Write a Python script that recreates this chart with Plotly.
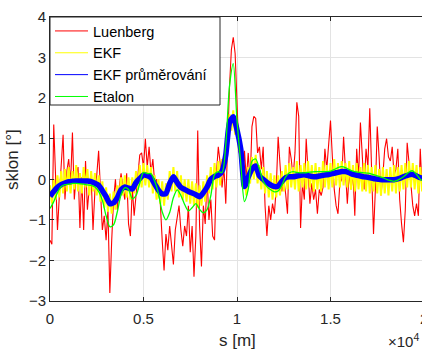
import plotly.graph_objects as go

# ---- data ----
# sample spacing of the noisy estimators [m] and of the smooth curves [m]
fine_step = 100
coarse_step = 200

luenberg = [
    -1.5, -1.6, 1.35, 0.1, -1.25, -0.4, 0.4, 1.1, -0.5, 0.2,
    0.5, -0.1, 1.15, -0.5, 0.1, 0.3, -1.2, 0.05, -1.25, 0.45,
    -0.75, -0.2, 0.1, -1.25, -0.3, 0.1, 0.7, -0.3, -1.25, -0.9,
    -1.5, -0.75, -2.8, -1.5, -0.5, 0.0, -0.75, -0.2, 0.15, -0.2,
    -0.5, 0.15, -1.1, -1.4, -0.2, -0.9, -0.3, 0.1, 0.6, 0.65,
    0.3, 1.0, 0.3, 0.8, 0.15, 0.5, -0.1, 0.0, -0.35, -0.6,
    -1.5, -2.25, -1.35, -1.75, -1.15, -1.6, -2.1, -1.25, -1.0, -0.65,
    -1.25, -1.65, -1.15, -1.4, -0.65, -1.8, -1.15, -2.4, -1.4, 1.2,
    -1.15, -2.15, -0.65, -1.1, 0.05, -1.0, -0.5, -1.4, -1.5, 0.15,
    0.8, 0.4, -0.2, 0.3, -0.6, 1.1, 2.3, 3.2, 3.5, 3.1,
    2.0, 0.7, 0.5, -0.2, 0.7, 0.0, 0.65, -0.1, 1.3, 1.55,
    1.5, 0.65, 0.8, 0.25, 0.8, -0.65, -1.4, -0.65, -1.0, -0.6,
    -0.85, -0.2, 1.05, 0.4, -0.3, 0.0, -0.35, -0.85, 0.8, 0.5,
    0.05, 0.65, 1.9, 1.55, -1.2, -0.1, -0.5, 1.0, 0.2, -0.6,
    -0.1, -0.5, -0.25, -0.85, -0.25, -0.4, -0.2, 0.75, 0.25, 0.9,
    1.45, 0.55, -0.25, -0.65, -0.85, -0.1, 0.0, 1.05, 0.2, -0.6,
    0.15, -0.25, 0.15, -0.9, 0.75, 0.05, 1.4, 0.4, -0.25, 0.75,
    0.3, 1.75, 0.2, -1.35, -0.25, 1.3, 0.55, -0.4, 0.1, 0.75,
    1.0, 0.55, 0.45, 0.8, 0.1, 0.25, 0.75, -0.5, -1.1, -1.55,
    -0.75, 0.9, 0.4, -0.25, -0.65, -0.9, -0.6, -0.9, 0.75, -0.25,
    0.5,
]

ekf = [
    -0.15, -0.6, 0.0, -0.5, 0.1, -0.45, 0.2, -0.35, 0.25, -0.3,
    0.3, -0.35, 0.2, -0.25, 0.35, -0.3, 0.15, -0.35, 0.3, -0.2,
    0.25, -0.4, 0.2, -0.3, 0.15, -0.4, 0.1, -0.55, -0.05, -0.7,
    -0.2, -0.8, -0.35, -0.85, -0.3, -0.75, -0.15, -0.5, 0.05, -0.4,
    0.1, -0.45, 0.05, -0.5, 0.05, -0.35, 0.2, -0.25, 0.35, -0.2,
    0.4, -0.15, 0.35, -0.2, 0.3, -0.35, 0.1, -0.5, 0.0, -0.6,
    -0.05, -0.65, -0.1, -0.5, 0.2, -0.3, 0.3, -0.3, 0.2, -0.45,
    0.1, -0.5, 0.0, -0.55, 0.0, -0.6, -0.05, -0.65, -0.1, -0.7,
    -0.15, -0.65, -0.05, -0.55, 0.1, -0.35, 0.3, -0.25, 0.4, -0.2,
    0.45, -0.15, 0.5, 0.15, 0.9, 0.7, 1.6, 1.2, 1.7, 1.1,
    1.45, 0.7, 0.9, 0.0, 0.1, -0.4, 0.3, -0.1, 0.55, 0.0,
    0.6, -0.1, 0.35, -0.25, 0.3, -0.35, 0.2, -0.45, 0.15, -0.5,
    0.1, -0.45, 0.1, -0.4, 0.2, -0.3, 0.35, -0.25, 0.4, -0.2,
    0.3, -0.25, 0.45, -0.3, 0.35, -0.2, 0.4, -0.25, 0.45, -0.2,
    0.35, -0.3, 0.4, -0.25, 0.3, -0.3, 0.45, -0.2, 0.35, -0.25,
    0.4, -0.2, 0.5, -0.15, 0.4, -0.2, 0.45, -0.15, 0.4, -0.2,
    0.45, -0.25, 0.35, -0.3, 0.4, -0.25, 0.3, -0.3, 0.4, -0.3,
    0.35, -0.35, 0.3, -0.3, 0.35, -0.35, 0.25, -0.4, 0.3, -0.35,
    0.25, -0.4, 0.3, -0.3, 0.35, -0.35, 0.3, -0.3, 0.35, -0.25,
    0.4, -0.2, 0.45, -0.2, 0.4, -0.25, 0.35, -0.35, 0.3, -0.3,
]

ekf_avg = [
    -0.42, -0.30, -0.20, -0.13, -0.09, -0.06, -0.05, -0.04, -0.04, -0.04,
    -0.04, -0.06, -0.10, -0.15, -0.28, -0.43, -0.60, -0.58, -0.45, -0.26,
    -0.19, -0.22, -0.24, -0.08, 0.02, 0.10, 0.09, 0.04, -0.12, -0.27,
    -0.36, -0.35, -0.10, 0.06, -0.08, -0.20, -0.25, -0.30, -0.34, -0.38,
    -0.43, -0.33, -0.19, 0.00, 0.07, 0.10, 0.20, 0.60, 1.40, 1.54,
    1.22, 0.75, -0.18, 0.05, 0.25, 0.33, 0.08, 0.00, -0.08, -0.14,
    -0.18, -0.17, -0.05, 0.04, 0.06, 0.06, 0.08, 0.10, 0.11, 0.09,
    0.07, 0.06, 0.08, 0.10, 0.11, 0.13, 0.15, 0.17, 0.19, 0.19,
    0.16, 0.12, 0.10, 0.08, 0.06, 0.05, 0.03, 0.01, 0.00, -0.01,
    -0.01, -0.01, -0.01, 0.01, 0.04, 0.08, 0.11, 0.12, 0.08, 0.04,
    0.03,
]

etalon = [
    -0.72, -0.55, -0.33, -0.18, -0.13, -0.12, -0.10, -0.10, -0.11, -0.12,
    -0.14, -0.15, -0.19, -0.30, -0.52, -0.90, -1.17, -1.12, -0.80, -0.38,
    -0.21, -0.25, -0.48, -0.40, -0.10, 0.17, 0.14, 0.14, -0.05, -0.35,
    -0.80, -1.00, -0.82, -0.45, -0.26, -0.40, -0.62, -0.78, -0.70, -0.60,
    -0.74, -0.83, -0.75, -0.40, 0.12, 0.19, 0.17, 0.85, 2.30, 2.85,
    1.45, 0.40, -0.55, -0.25, 0.45, 0.50, 0.25, -0.05, -0.18, -0.26,
    -0.31, -0.29, -0.15, 0.06, 0.16, 0.19, 0.17, 0.16, 0.16, 0.17,
    0.18, 0.19, 0.19, 0.19, 0.19, 0.20, 0.24, 0.29, 0.31, 0.29,
    0.24, 0.20, 0.18, 0.17, 0.16, 0.15, 0.13, 0.10, 0.07, 0.04,
    0.00, -0.03, -0.05, -0.02, 0.03, 0.10, 0.18, 0.21, 0.12, 0.00,
    -0.05,
]

names = ["Luenberg", "EKF", "EKF průměrování", "Etalon"]
colors = ["#ff0000", "#ffff00", "#0000ff", "#00ff00"]

x_tick_vals = [0, 5000, 10000, 15000]
x_tick_text = ["0", "0.5", "1", "1.5"]
y_tick_vals = [-3, -2, -1, 0, 1, 2, 3, 4]

s_fine = [i * fine_step for i in range(len(luenberg))]
s_fine_ekf = [i * fine_step for i in range(len(ekf))]
s_coarse = [i * coarse_step for i in range(len(etalon))]

FONT = "Liberation Sans, Arial, Helvetica, sans-serif"
DARK = "#262626"

fig = go.Figure()
fig.add_trace(go.Scatter(x=s_fine, y=luenberg, mode="lines",
                         line=dict(color=colors[0], width=1.1), showlegend=False))
fig.add_trace(go.Scatter(x=s_fine_ekf, y=ekf, mode="lines",
                         line=dict(color=colors[1], width=2), showlegend=False))
fig.add_trace(go.Scatter(x=s_coarse, y=ekf_avg, mode="lines",
                         line=dict(color=colors[2], width=5.5, shape="spline", smoothing=0.6),
                         showlegend=False))
fig.add_trace(go.Scatter(x=s_coarse, y=etalon, mode="lines",
                         line=dict(color=colors[3], width=1.3, shape="spline", smoothing=0.8),
                         showlegend=False))
# legend entries
for n, c in zip(names, colors):
    fig.add_trace(go.Scatter(x=[None], y=[None], mode="lines", name=n,
                             line=dict(color=c, width=1)))

full_max = 20000
plot_w = 372
plot_h = 284
px_to_paper_x = lambda px: (px - 50) / plot_w
px_to_paper_y = lambda py: (301 - py) / plot_h

fig.update_layout(
    width=422, height=349,
    margin=dict(l=50, r=0, t=17, b=48),
    paper_bgcolor="white", plot_bgcolor="white",
    font=dict(family=FONT, color=DARK, size=15),
    showlegend=True,
    legend=dict(x=0, y=px_to_paper_y(15), xanchor="left", yanchor="top",
                bgcolor="rgba(0,0,0,0)", borderwidth=0,
                font=dict(size=14.5, color="#000000", family=FONT),
                tracegroupgap=0, itemwidth=33),
    xaxis=dict(range=[0, full_max * plot_w / (plot_w + 2)],
               tickvals=x_tick_vals, ticktext=x_tick_text,
               ticks="inside", ticklen=4, tickcolor=DARK,
               showline=True, linecolor=DARK, linewidth=1, mirror="ticks",
               showgrid=True, gridcolor="#e3e3e3", gridwidth=1,
               zeroline=False, tickfont=dict(size=15, color=DARK),
               ticklabelstandoff=4),
    yaxis=dict(range=[-3, 4], tickvals=y_tick_vals,
               ticks="inside", ticklen=4, tickcolor=DARK,
               showline=True, linecolor=DARK, linewidth=1,
               showgrid=True, gridcolor="#e3e3e3", gridwidth=1,
               zeroline=False, tickfont=dict(size=15, color=DARK)),
)

# legend frame (white box with dark border)
fig.add_shape(type="rect", xref="paper", yref="paper",
              x0=px_to_paper_x(50), x1=px_to_paper_x(220),
              y0=px_to_paper_y(105), y1=px_to_paper_y(17),
              fillcolor="white", line=dict(color=DARK, width=1), layer="above")

fig.add_annotation(text="2", xref="paper", yref="paper",
                   x=px_to_paper_x(423.7), y=px_to_paper_y(318),
                   xanchor="center", yanchor="middle", showarrow=False,
                   font=dict(size=15, color=DARK, family=FONT))
fig.add_annotation(text="s [m]", xref="paper", yref="paper",
                   x=px_to_paper_x(237), y=px_to_paper_y(340),
                   xanchor="center", yanchor="middle", showarrow=False,
                   font=dict(size=17, color=DARK, family=FONT))
fig.add_annotation(text="×10<sup>4</sup>", xref="paper", yref="paper",
                   x=px_to_paper_x(386), y=px_to_paper_y(340),
                   xanchor="left", yanchor="middle", showarrow=False,
                   font=dict(size=15, color=DARK, family=FONT))
fig.add_annotation(text="sklon [°]", xref="paper", yref="paper",
                   x=px_to_paper_x(12), y=px_to_paper_y(160),
                   xanchor="center", yanchor="middle", showarrow=False,
                   textangle=-90,
                   font=dict(size=17, color=DARK, family=FONT))

fig.write_html("out.html")
